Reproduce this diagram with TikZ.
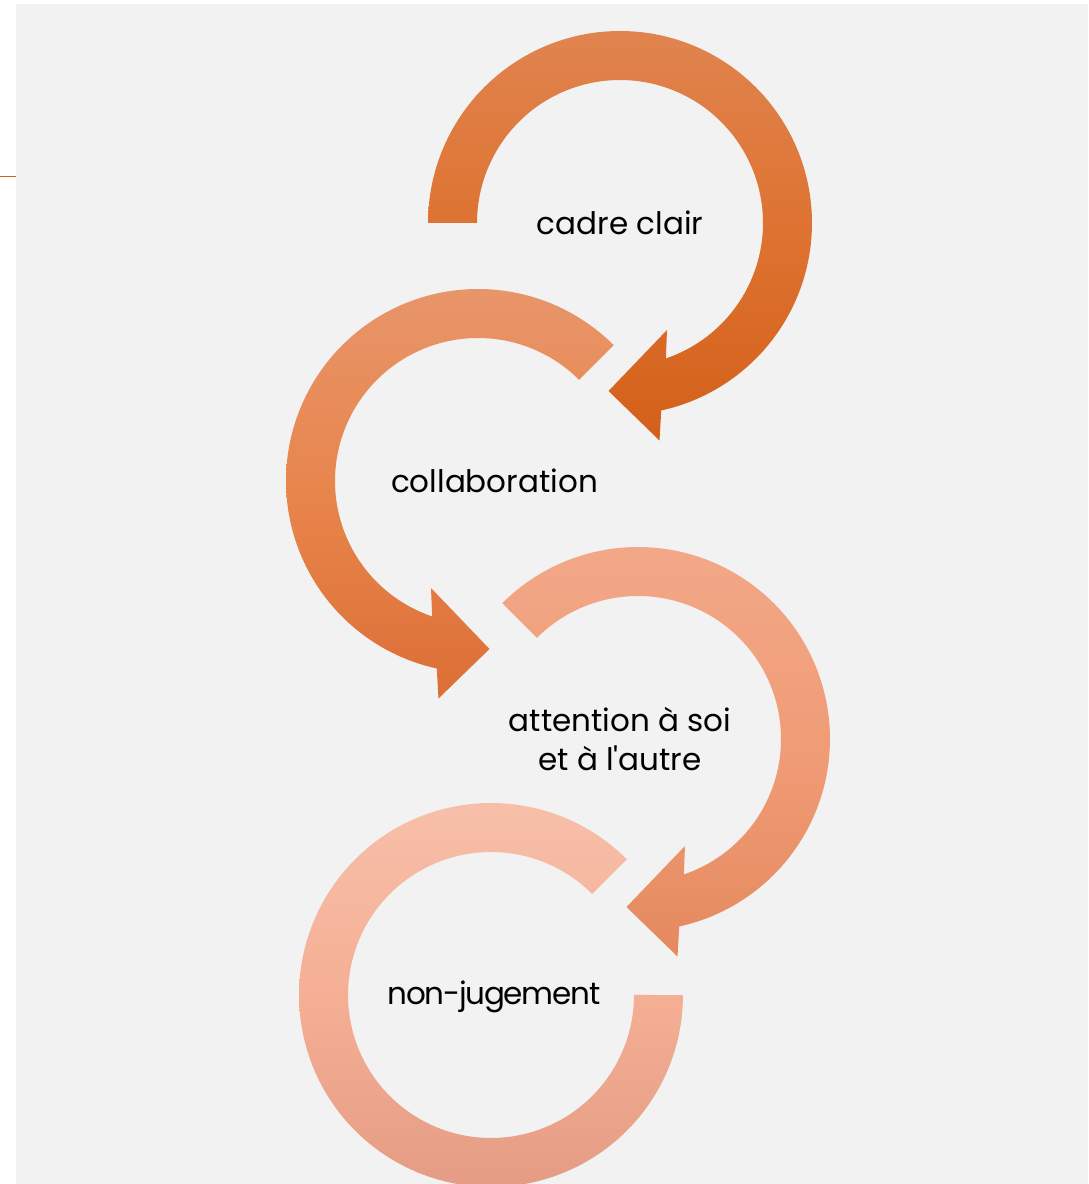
\documentclass[tikz,border=0pt]{standalone}
\usepackage{fontspec}
\setmainfont{Poppins}
\usetikzlibrary{calc}
\definecolor{bg}{HTML}{F2F2F2}
\definecolor{lineor}{HTML}{D35F1A}
\definecolor{aAt}{HTML}{E0844F}\definecolor{aAm}{HTML}{DE7230}\definecolor{aAb}{HTML}{D3601A}
\definecolor{aBt}{HTML}{E8956A}\definecolor{aBm}{HTML}{E8854C}\definecolor{aBb}{HTML}{DC6F36}
\definecolor{aCt}{HTML}{F2A888}\definecolor{aCm}{HTML}{F09C76}\definecolor{aCb}{HTML}{E5895E}
\definecolor{aDt}{HTML}{F7BFA9}\definecolor{aDm}{HTML}{F5AF95}\definecolor{aDb}{HTML}{E49D84}
\tikzset{
  lbl/.style={font=\fontsize{31}{39}\selectfont, text=black, align=center, inner sep=0pt},
}
% arrow with head (clockwise in local coords), #1 start angle
\newcommand{\cwarrow}[1]{%
  (#1:143pt) -- plot[domain=#1:-77.6, samples=150] (\x:192pt)
  -- (39.5,-217.5) -- (-11.5,-168) -- (47,-107)
  -- plot[domain=-71.3:#1, samples=150] (\x:143pt) -- cycle}
\begin{document}
\begin{tikzpicture}[x=1pt,y=1pt]
\useasboundingbox (0,0) rectangle (1088,1184);
\fill[white] (0,0) rectangle (1088,1184);
\fill[bg] (16,0) rectangle (1088,1180);
\draw[lineor, line width=1pt] (0,1007) -- (16,1007);
% arrow 1
\begin{scope}[shift={(620,961)}]
\clip \cwarrow{180};
\shade[top color=aAt, bottom color=aAb, middle color=aAm] (-230,-217.5) rectangle (230,192);
\end{scope}
% arrow 2 (mirrored)
\begin{scope}[shift={(478,703)}, xscale=-1]
\clip \cwarrow{135};
\shade[top color=aBt, bottom color=aBb, middle color=aBm] (-230,-217.5) rectangle (230,192);
\end{scope}
% arrow 3
\begin{scope}[shift={(638,445)}]
\clip \cwarrow{135};
\shade[top color=aCt, bottom color=aCb, middle color=aCm] (-230,-217.5) rectangle (230,192);
\end{scope}
% arrow 4 (mirrored, no head)
\begin{scope}[shift={(491,189)}, xscale=-1]
\clip (135:143pt) -- plot[domain=135:-180, samples=180] (\x:192pt)
  -- plot[domain=-180:135, samples=180] (\x:143pt) -- cycle;
\shade[top color=aDt, bottom color=aDb, middle color=aDm] (-230,-192) rectangle (230,192);
\end{scope}
\node[lbl] (t1) at (620,961) {cadre clair};
\node[lbl] (t2) at (494.5,703) {collaboration};
\node[lbl] (t3) at (620,445) {attention à soi\\et à l\textquotesingle autre};
\node[lbl] (t4) at (494,187) {\addfontfeature{LetterSpace=-4}non-jugement};
\end{tikzpicture}
\end{document}
